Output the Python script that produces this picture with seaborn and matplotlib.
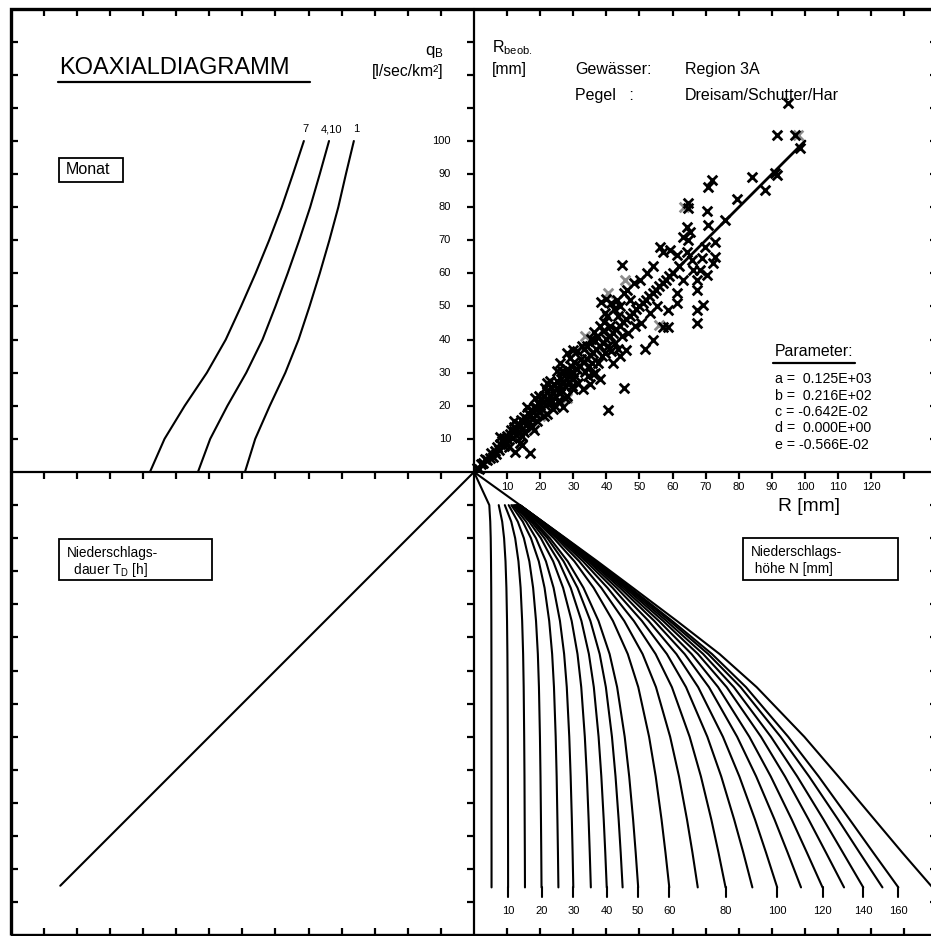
import numpy as np
import pandas as pd
import matplotlib
matplotlib.use("Agg")
import matplotlib.pyplot as plt
import seaborn as sns
from matplotlib.patches import Rectangle

sns.set_theme(style="white")
plt.rcParams['font.family'] = ['Liberation Sans', 'DejaVu Sans']
plt.rcParams['mathtext.fontset'] = 'custom'
plt.rcParams['mathtext.rm'] = 'Liberation Sans'
plt.rcParams['mathtext.it'] = 'Liberation Sans'
plt.rcParams['text.color'] = 'black'

# ---------------- data ----------------
# Quadrant I: computed R vs observed R
r_calc = [1.0, 1.6, 2.0, 2.8, 3.2, 4.0, 4.8, 5.2, 5.6, 6.2, 6.6, 7.0, 7.6, 8.0, 8.6, 9.0, 9.2, 9.6, 10.0, 10.3,
          11.0, 11.2, 11.6, 12.0, 12.2, 12.6, 13.0, 13.2, 13.6, 14.0, 14.2, 14.6, 15.0, 15.2, 15.6, 16.0, 16.2, 16.6,
          17.0, 17.2, 17.6, 18.0, 18.2, 18.6, 19.0, 19.2, 19.6, 20.0, 20.2, 20.6,
          12.4, 14.4, 16.9, 13.9, 15.2, 17.2, 19.0, 18.2,
          21.0, 21.2, 21.6, 22.0, 22.2, 22.6, 23.0, 23.2, 23.6, 24.0, 24.2, 24.6, 25.0, 25.2, 25.6, 26.0, 26.2, 26.6,
          27.0, 27.2, 27.6, 28.0, 28.2, 28.6, 29.0, 29.2, 29.6, 30.0, 30.2, 30.6,
          26.0, 28.0, 30.0, 22.0, 25.0, 29.0, 31.0, 22.0, 24.0, 26.0, 28.0, 30.0, 27.0,
          31.0, 32.0, 32.2, 33.0, 33.2, 33.6, 34.0, 34.2, 34.6, 35.0, 35.2, 35.6, 36.0, 36.2, 36.6, 37.0, 37.2, 38.0,
          38.2, 38.6, 39.0, 39.2, 39.6, 40.0, 40.2, 40.6, 41.0, 41.2, 42.0, 42.2, 42.6, 43.0, 43.2, 43.6, 44.0, 44.2,
          44.6, 45.0, 45.2,
          38.5, 40.0, 41.5, 39.5, 40.4, 45.4, 38.0, 36.0, 42.0, 44.0, 46.0, 33.0, 35.0,
          46.0, 46.2, 46.6, 47.0, 47.2, 48.0, 48.2, 48.6, 49.0, 50.0, 50.2, 50.6, 51.0, 52.0, 52.2, 53.0, 53.2, 54.0,
          54.2, 55.0, 55.2, 56.0, 57.0, 58.0, 59.0, 60.0,
          44.6, 56.2, 57.2, 59.2, 61.2, 58.7, 57.2, 58.7, 61.2, 61.2, 51.7, 54.0,
          64.8, 64.8, 70.3, 70.8, 75.8, 64.3, 65.3, 63.2, 64.7, 69.8, 72.8, 64.3, 72.8, 72.3, 68.8, 68.3, 66.3, 67.3,
          70.3, 67.3, 67.3, 69.3, 67.3, 71.8, 70.8, 79.4, 83.9, 91.4, 87.9, 90.9, 98.5, 91.4, 97.0, 95.0, 62.0, 63.0,
          66.0,
          8.0, 10.5, 12.0, 14.5, 16.0, 17.5, 19.5, 21.0, 23.0, 24.5, 26.5, 27.5, 31.5, 32.5, 34.5, 36.5, 37.5, 39.0,
          41.5, 43.5, 21.5, 18.5, 25.5, 29.5]
r_obs = [1.2, 0.9, 2.4, 2.6, 3.8, 3.6, 4.1, 5.6, 4.6, 6.4, 5.3, 7.7, 6.7, 8.4, 9.3, 8.0, 10.3, 9.0, 11.0, 9.7,
         11.4, 12.7, 10.3, 12.3, 13.7, 11.2, 13.1, 14.6, 12.1, 14.3, 15.7, 13.1, 15.2, 16.7, 14.1, 16.1, 17.7, 15.1,
         17.2, 18.7, 16.1, 18.1, 19.7, 17.1, 19.2, 20.7, 18.1, 20.1, 21.8, 19.1,
         6.1, 8.2, 5.6, 8.7, 12.0, 13.8, 15.5, 12.8,
         21.2, 23.1, 20.1, 22.2, 24.2, 21.0, 23.1, 25.6, 21.6, 24.1, 26.6, 23.0, 25.2, 27.6, 24.0, 26.1, 28.2, 24.6,
         27.2, 30.1, 26.0, 28.1, 31.1, 27.0, 29.2, 32.1, 28.0, 30.1, 33.2, 29.0,
         33.0, 36.0, 37.0, 27.0, 30.5, 34.5, 36.5, 17.5, 19.0, 21.0, 23.0, 25.0, 19.5,
         31.2, 32.1, 34.2, 33.1, 37.1, 30.2, 34.2, 38.1, 32.1, 35.2, 40.2, 33.0, 36.1, 42.2, 30.0, 37.2, 41.1, 38.1,
         44.2, 35.0, 39.1, 45.2, 36.0, 40.1, 47.1, 38.0, 41.2, 44.1, 42.1, 49.2, 39.0, 43.2, 52.1, 37.1, 44.1, 50.1,
         41.0, 45.2, 54.1,
         51.5, 52.2, 51.0, 48.0, 18.8, 25.5, 28.0, 29.5, 33.0, 35.0, 37.0, 25.0, 26.5,
         46.1, 55.1, 42.0, 47.2, 52.1, 48.1, 57.1, 44.0, 49.2, 50.1, 58.1, 45.0, 51.2, 52.1, 60.1, 53.1, 48.0, 54.1,
         62.2, 55.1, 50.0, 56.1, 57.2, 58.1, 59.2, 60.1,
         62.5, 68.1, 66.6, 67.1, 65.6, 48.9, 43.9, 43.9, 54.2, 51.0, 37.2, 40.0,
         81.2, 79.7, 79.0, 74.6, 76.1, 74.1, 72.6, 71.1, 70.1, 68.1, 69.6, 66.6, 65.0, 63.0, 64.6, 61.0, 61.0, 58.0,
         59.5, 55.0, 48.9, 50.5, 45.1, 88.2, 86.2, 82.4, 89.2, 89.7, 85.2, 90.2, 97.8, 101.8, 101.8, 111.4, 62.2, 58.0,
         64.0,
         10.5, 7.5, 15.5, 11.0, 19.5, 13.5, 23.0, 17.0, 27.5, 20.0, 30.5, 22.5, 27.0, 38.0, 29.0, 39.5, 33.0, 42.5,
         36.5, 47.0, 25.5, 22.5, 21.5, 26.0]
grey_calc = [97.8, 45.5, 40.6, 63.5, 28.0, 20.0, 56.0, 33.5]
grey_obs = [101.8, 58.0, 54.0, 80.0, 22.5, 17.0, 44.5, 41.0]
fit_x = [0, 100]
fit_y = [0, 100]

# Quadrant II: baseflow q_B curves per month (q_B at R levels)
month_R = [0, 10, 20, 30, 40, 50, 60, 70, 80, 90, 100]
month_names = ["7", "4,10", "1"]
qb_m7 = [97.9, 93.5, 87.4, 80.7, 75.0, 70.4, 66.0, 61.9, 58.1, 54.7, 51.4]
qb_m4_10 = [83.4, 79.7, 74.5, 68.8, 63.9, 60.0, 56.3, 52.8, 49.5, 46.6, 43.8]
qb_m1 = [69.2, 66.1, 61.7, 57.0, 53.0, 49.7, 46.6, 43.7, 41.0, 38.7, 36.3]

# Quadrant III: duration transfer line
td_x = [0, -125]
td_y = [0, -125]

# Quadrant IV: rainfall depth curves (R at duration-axis levels)
dur_levels = [0, 10, 15, 20, 27, 35, 45, 55, 65, 80, 92, 105, 115, 125.5]
N_values = [5, 10, 15, 20, 25, 30, 35, 40, 45, 50, 60, 70, 80, 90, 100, 110, 120, 130, 140, 150, 160, 180]
N_labeled = [10, 20, 30, 40, 50, 60, 80, 100, 120, 140, 160]
nan = np.nan
R_of_N = [
    [0, 4.62, 4.91, 5.05, 5.14, 5.20, 5.24, 5.26, 5.27, 5.28, 5.29, 5.29, 5.30, 5.30],
    [nan, 7.47, 8.52, 9.09, 9.52, 9.79, 9.98, 10.09, 10.15, 10.21, 10.24, 10.27, 10.29, 10.30],
    [nan, 9.31, 11.26, 12.44, 13.43, 14.08, 14.55, 14.84, 15.01, 15.16, 15.25, 15.31, 15.36, 15.40],
    [nan, 10.47, 13.23, 15.07, 16.72, 17.86, 18.74, 19.29, 19.62, 19.92, 20.09, 20.23, 20.32, 20.40],
    [nan, 11.27, 14.73, 17.21, 19.58, 21.32, 22.72, 23.61, 24.16, 24.68, 24.97, 25.20, 25.36, 25.50],
    [nan, 11.77, 15.74, 18.73, 21.74, 24.05, 25.97, 27.23, 28.03, 28.78, 29.20, 29.56, 29.79, 30.00],
    [nan, 12.21, 16.67, 20.20, 23.93, 26.92, 29.51, 31.27, 32.40, 33.48, 34.11, 34.63, 34.97, 35.30],
    [nan, 12.50, 17.33, 21.28, 25.61, 29.22, 32.46, 34.71, 36.20, 37.64, 38.47, 39.19, 39.66, 40.10],
    [nan, 12.73, 17.86, 22.19, 27.07, 31.28, 35.17, 37.97, 39.84, 41.68, 42.76, 43.70, 44.32, 44.90],
    [nan, 12.92, 18.28, 22.93, 28.31, 33.08, 37.62, 40.97, 43.24, 45.53, 46.89, 48.07, 48.85, 49.60],
    [nan, 13.18, 18.94, 24.10, 30.34, 36.15, 41.98, 46.46, 49.63, 52.90, 54.90, 56.66, 57.85, 59.00],
    [nan, 13.36, 19.37, 24.91, 31.80, 38.46, 45.40, 50.94, 54.98, 59.26, 61.94, 64.35, 66.00, 67.60],
    [nan, 13.49, 19.70, 25.52, 32.96, 40.34, 48.29, 54.87, 59.79, 65.15, 68.56, 71.70, 73.87, 76.00],
    [nan, 13.58, 19.95, 26.00, 33.87, 41.88, 50.74, 58.28, 64.06, 70.50, 74.70, 78.60, 81.37, 84.10],
    [nan, 13.65, 20.14, 26.37, 34.58, 43.10, 52.75, 61.15, 67.72, 75.21, 80.18, 84.90, 88.23, 91.60],
    [nan, 13.71, 20.28, 26.66, 35.17, 44.12, 54.46, 63.65, 70.99, 79.50, 85.26, 90.80, 94.76, 98.80],
    [nan, 13.75, 20.40, 26.89, 35.63, 44.94, 55.85, 65.73, 73.75, 83.19, 89.67, 96.00, 100.58, 105.30],
    [nan, 13.79, 20.50, 27.09, 36.04, 45.67, 57.13, 67.66, 76.33, 86.71, 93.96, 101.1, 106.35, 111.80],
    [nan, 13.82, 20.58, 27.25, 36.37, 46.27, 58.16, 69.25, 78.50, 89.72, 97.66, 105.6, 111.46, 117.60],
    [nan, 13.84, 20.65, 27.39, 36.66, 46.80, 59.12, 70.75, 80.55, 92.62, 101.25, 110.0, 116.49, 123.40],
    [nan, 13.86, 20.70, 27.50, 36.88, 47.22, 59.86, 71.91, 82.17, 94.92, 104.13, 113.5, 120.63, 128.20],
    [0, 13.90, 20.80, 27.70, 37.30, 48.00, 61.30, 74.20, 85.40, 99.80, 110.10, 121.0, 129.40, 138.50],
]

param_names = ["a", "b", "c", "d", "e"]
param_values = [" 0.125E+03", " 0.216E+02", "-0.642E-02", " 0.000E+00", "-0.566E-02"]

# ---------------- figure ----------------
fig = plt.figure(figsize=(9.31, 9.36), dpi=100)
ax = fig.add_axes([0, 0, 1, 1])
S = 3.31            # pixels per unit
OX, OY = 474, 472   # origin in pixels
ax.set_xlim(-OX / S, (931 - OX) / S)
ax.set_ylim((OY - 936) / S, OY / S)
ax.set_axis_off()


def ux(px):
    return (px - OX) / S


def uy(py):
    return (OY - py) / S


LW = 1.5
K = 'black'

# frame and central axes
L = 140
ax.add_patch(Rectangle((-L, -L), 2 * L, 2 * L, fill=False, lw=2.4, ec=K, zorder=6))
ax.plot([-L, L], [0, 0], color=K, lw=1.6, zorder=6)
ax.plot([0, 0], [-L, L], color=K, lw=1.6, zorder=6)
tk = np.arange(10, 140, 10)
allk = np.concatenate([-tk[::-1], tk])
tl = 2.1
ax.vlines(allk, L - tl, L, colors=K, lw=1.6)
ax.vlines(allk, -L, -L + tl, colors=K, lw=1.6)
ax.hlines(allk, -L, -L + tl, colors=K, lw=1.6)
ax.hlines(allk, L - tl, L, colors=K, lw=1.6)
ax.vlines(allk, -tl, 0, colors=K, lw=1.6)
ax.hlines(allk, -tl, 0, colors=K, lw=1.6)

# tick labels
for v in range(10, 101, 10):
    ax.text(ux(451), v, str(v), ha='right', va='center', fontsize=8)
for v in range(10, 121, 10):
    ax.text(v, uy(487.5), str(v), ha='center', va='center', fontsize=8)

# Quadrant I scatter + fit
sns.scatterplot(x=grey_calc, y=grey_obs, marker='x', s=48, color='#8c8c8c', linewidth=2.0, ax=ax,
                legend=False, zorder=3)
sns.scatterplot(x=r_calc, y=r_obs, marker='x', s=48, color=K, linewidth=2.0, ax=ax, legend=False, zorder=4)
sns.lineplot(x=fit_x, y=fit_y, color=K, lw=2.0, ax=ax, legend=False, zorder=5)

# Quadrant II month curves
mdf = pd.DataFrame({
    'q': [-v for v in qb_m7 + qb_m4_10 + qb_m1],
    'R': month_R * 3,
    'm': sum([[n] * len(month_R) for n in month_names], []),
})
sns.lineplot(data=mdf, x='q', y='R', units='m', estimator=None, sort=False, color=K, lw=LW, ax=ax,
             legend=False)
for name, arr in zip(month_names, [qb_m7, qb_m4_10, qb_m1]):
    ax.text(-arr[-1] + 0.6, 100 + 3.5, name, ha='center', va='center', fontsize=8)

# Quadrant III
sns.lineplot(x=td_x, y=td_y, color=K, lw=LW, ax=ax, legend=False, sort=False)

# Quadrant IV
rows = []
for n, xs in zip(N_values, R_of_N):
    for t, xv in zip(dur_levels, xs):
        if not np.isnan(xv):
            rows.append((n, xv, -t))
ndf = pd.DataFrame(rows, columns=['N', 'R', 'T'])
sns.lineplot(data=ndf, x='R', y='T', units='N', estimator=None, sort=False, color=K, lw=LW, ax=ax,
             legend=False)
for n, xs in zip(N_values, R_of_N):
    if n in N_labeled:
        ax.plot([xs[-1], xs[-1]], [-dur_levels[-1], -128.3], color=K, lw=LW)
        ax.text(xs[-1], uy(911), str(n), ha='center', va='center', fontsize=8)

# ---------------- texts ----------------
ax.text(ux(59), uy(68), "KOAXIALDIAGRAMM", ha='left', va='center', fontsize=17)
ax.plot([ux(58), ux(310)], [uy(81.7)] * 2, color=K, lw=1.6)
ax.text(ux(444), uy(52), r"$\mathregular{q_B}$", ha='right', va='center', fontsize=12)
ax.text(ux(444), uy(72), "[l/sec/km²]", ha='right', va='center', fontsize=11.3)

ax.add_patch(Rectangle((ux(59), uy(182)), (123 - 59) / S, (182 - 158) / S, fill=False, lw=1.3, ec=K))
ax.text(ux(66), uy(170), "Monat", ha='left', va='center', fontsize=11.5)

ax.text(ux(492), uy(48), r"$\mathregular{R_{beob.}}$", ha='left', va='center', fontsize=11.5)
ax.text(ux(492), uy(70), "[mm]", ha='left', va='center', fontsize=11.3)
ax.text(ux(575), uy(70), "Gewässer:", ha='left', va='center', fontsize=11.5)
ax.text(ux(685), uy(70), "Region 3A", ha='left', va='center', fontsize=11.5)
ax.text(ux(575), uy(96), "Pegel   :", ha='left', va='center', fontsize=11.5)
ax.text(ux(685), uy(96), "Dreisam/Schutter/Har", ha='left', va='center', fontsize=11.5)

ax.text(ux(775), uy(352), "Parameter:", ha='left', va='center', fontsize=11.4)
ax.plot([ux(773), ux(855)], [uy(363.5)] * 2, color=K, lw=1.6)
for i, (pn, pv) in enumerate(zip(param_names, param_values)):
    ax.text(ux(775), uy(379.3 + 16.4 * i), f"{pn} = {pv}", ha='left', va='center', fontsize=10.2)

ax.text(ux(778), uy(507), "R [mm]", ha='left', va='center', fontsize=13.8)

ax.add_patch(Rectangle((ux(59), uy(580)), (212 - 59) / S, (580 - 539) / S, fill=False, lw=1.3, ec=K))
ax.text(ux(67), uy(553), "Niederschlags-", ha='left', va='center', fontsize=9.8)
ax.text(ux(70), uy(570), r" dauer T$_\mathregular{D}$ [h]", ha='left', va='center', fontsize=9.8)

ax.add_patch(Rectangle((ux(743), uy(580)), (898 - 743) / S, (580 - 538) / S, fill=False, lw=1.3, ec=K))
ax.text(ux(751), uy(552), "Niederschlags-", ha='left', va='center', fontsize=9.8)
ax.text(ux(751), uy(569), " höhe N [mm]", ha='left', va='center', fontsize=9.8)

fig.savefig("out.png", dpi=100, facecolor='white')
